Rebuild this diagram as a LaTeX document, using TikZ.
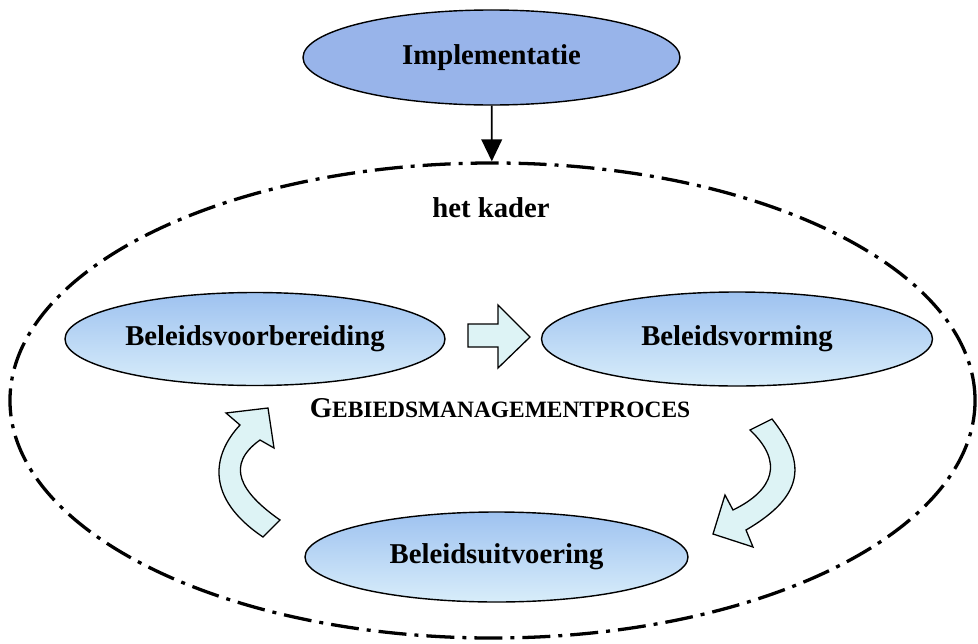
\documentclass[tikz,border=0pt]{standalone}
\usepackage{fontspec}
\setmainfont{Liberation Serif}
\usetikzlibrary{shapes.geometric,arrows.meta}
\definecolor{implblauw}{RGB}{152,180,234}
\definecolor{fasetop}{RGB}{158,194,240}
\definecolor{fasebodem}{RGB}{216,237,250}
\definecolor{pijlvul}{RGB}{221,243,245}

\begin{document}
\begin{tikzpicture}[x=0.03cm, y=-0.03cm,
    every node/.style={font=\bfseries\fontsize{24.5}{29}\selectfont},
    fase/.style={ellipse, draw, line width=1.2pt, top color=fasetop, bottom color=fasebodem, inner sep=0pt},
    blokpijl/.style={draw, line width=1.1pt, fill=pijlvul, line join=miter}]
    \useasboundingbox (0,0) rectangle (978,644);
    \node [ellipse, draw, line width=1.2pt, fill=implblauw, minimum width=11.31cm, minimum height=2.85cm] (Implementatie) at (491.5,57.5) {Implementatie};
    \node [ellipse, draw, line width=2.8pt, dash pattern=on 0.84cm off 0.24cm on 0.12cm off 0.24cm, minimum width=28.95cm, minimum height=14.25cm] (Kader) at (492.5,400.5) {};
    \node (KaderLabel) at (491,208) {het kader};
    \node [fase, minimum width=11.4cm, minimum height=2.79cm] (Voorbereiding) at (255,339) {Beleidsvoorbereiding};
    \node [fase, minimum width=11.73cm, minimum height=2.82cm] (Vorming) at (737,339) {Beleidsvorming};
    \node [fase, minimum width=11.49cm, minimum height=2.7cm] (Uitvoering) at (496.5,557) {Beleidsuitvoering};
    \node (Proces) at (500,408) {G\fontsize{20}{24}\selectfont EBIEDSMANAGEMENTPROCES};

    \path [line width=1.5pt, -{Triangle[width=0.62cm, length=0.66cm]}] (Implementatie) edge (Kader);

    % blokpijlen van de cyclus
    \draw [blokpijl] (468,324) -- (498,324) -- (498,305) -- (530,337) -- (498,368) -- (498,347) -- (468,347) -- cycle;
    \draw [blokpijl] (750,430) -- (772,419) .. controls (806,462) and (806,495) .. (746,530) -- (753,547) -- (713,534) -- (725,495) -- (733,510) .. controls (774,490) and (784,462) .. (750,430) -- cycle;
    \draw [blokpijl] (263,537) -- (280,520) .. controls (240,492) and (225,465) .. (260,440) -- (274,448) -- (268,408) -- (226,413) -- (240,425) .. controls (212,455) and (205,498) .. (263,537) -- cycle;
\end{tikzpicture}
\end{document}
